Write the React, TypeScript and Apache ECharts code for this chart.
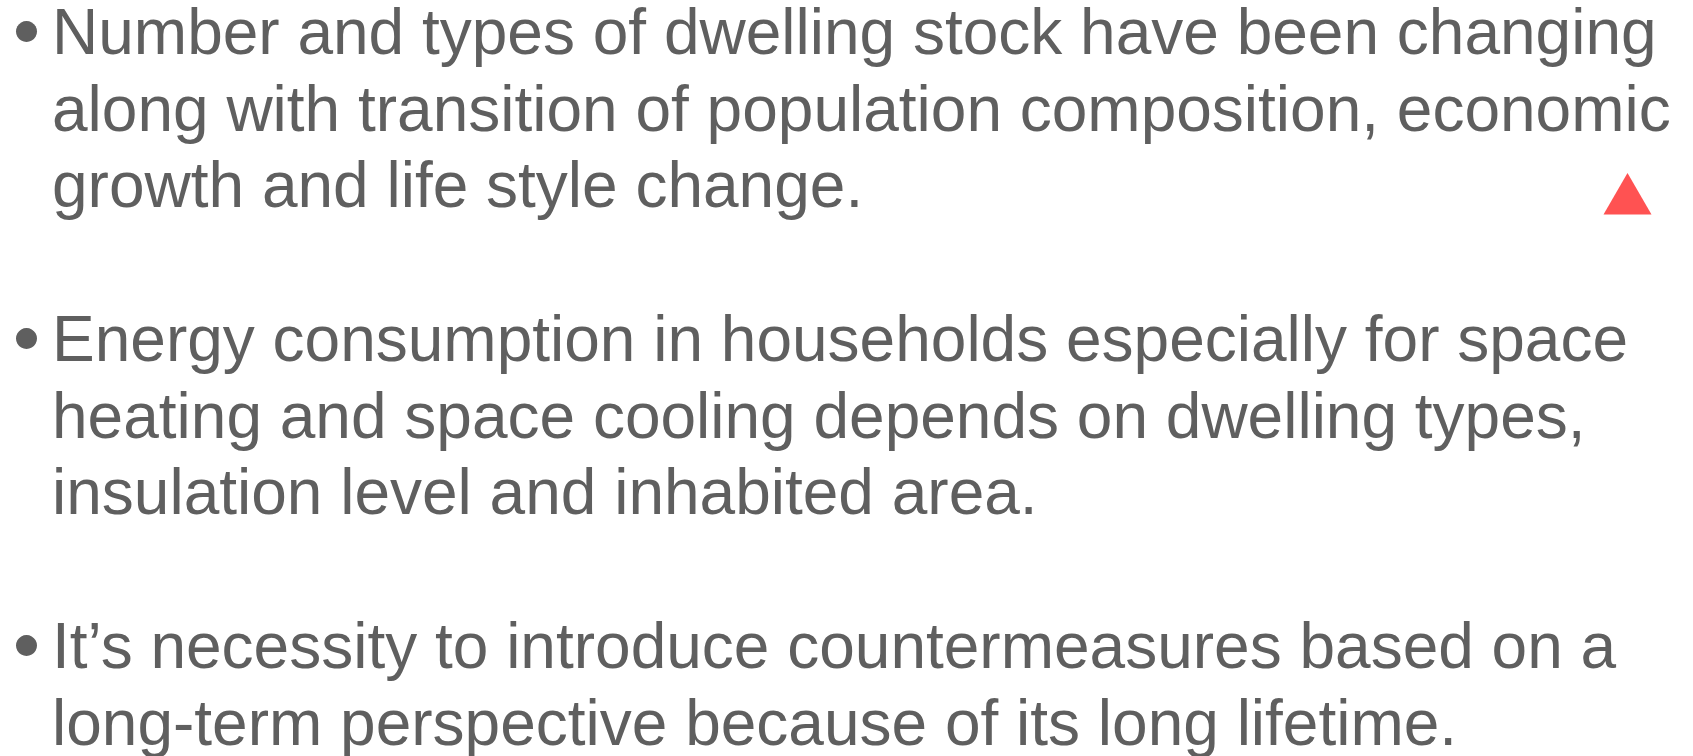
import React, { useEffect, useRef } from "react";
import * as echarts from "echarts";

const paragraphs: string[][] = [
  [
    "Number and types of dwelling stock have been changing",
    "along with transition of population composition, economic",
    "growth and life style change.",
  ],
  [
    "Energy consumption in households especially for space",
    "heating and space cooling depends on dwelling types,",
    "insulation level and inhabited area.",
  ],
  [
    "It\u2019s necessity to introduce countermeasures based on a",
    "long-term perspective because of its long lifetime.",
  ],
];

const paragraphBaselines = [54, 361, 668];
const markerPoints: number[][] = [
  [1627.5, 173],
  [1603.5, 214.5],
  [1651.5, 214.5],
];
const LINE_PITCH = 76.8;
const FONT_SIZE = 64;
const TEXT_X = 52;
const TEXT_COLOR = "#5f5f5f";
const MARKER_COLOR = "#ff5252";

export default function App() {
  const ref = useRef<HTMLDivElement>(null);
  useEffect(() => {
    document.body.style.margin = "0";
    if (!ref.current) return;
    const chart = echarts.init(ref.current, undefined, { renderer: "svg" });
    const elements: any[] = [];
    const centralOffset = 0.3465 * FONT_SIZE;
    paragraphs.forEach((lines, p) => {
      const base = paragraphBaselines[p];
      elements.push({
        type: "circle",
        shape: { cx: 26.5, cy: base - 22.5, r: 10.5 },
        style: { fill: TEXT_COLOR },
      });
      lines.forEach((line, i) => {
        elements.push({
          type: "text",
          x: TEXT_X,
          y: base + i * LINE_PITCH - centralOffset,
          style: {
            text: line,
            fill: TEXT_COLOR,
            font: `${FONT_SIZE}px "Liberation Sans", Arial, sans-serif`,
            textAlign: "left",
            textVerticalAlign: "middle",
          },
        });
      });
    });
    elements.push({
      type: "polygon",
      shape: { points: markerPoints },
      style: { fill: MARKER_COLOR },
    });
    chart.setOption({
      animation: false,
      backgroundColor: "#ffffff",
      graphic: { elements },
    });
    return () => chart.dispose();
  }, []);
  return <div ref={ref} style={{ width: 1693, height: 756 }} />;
}
